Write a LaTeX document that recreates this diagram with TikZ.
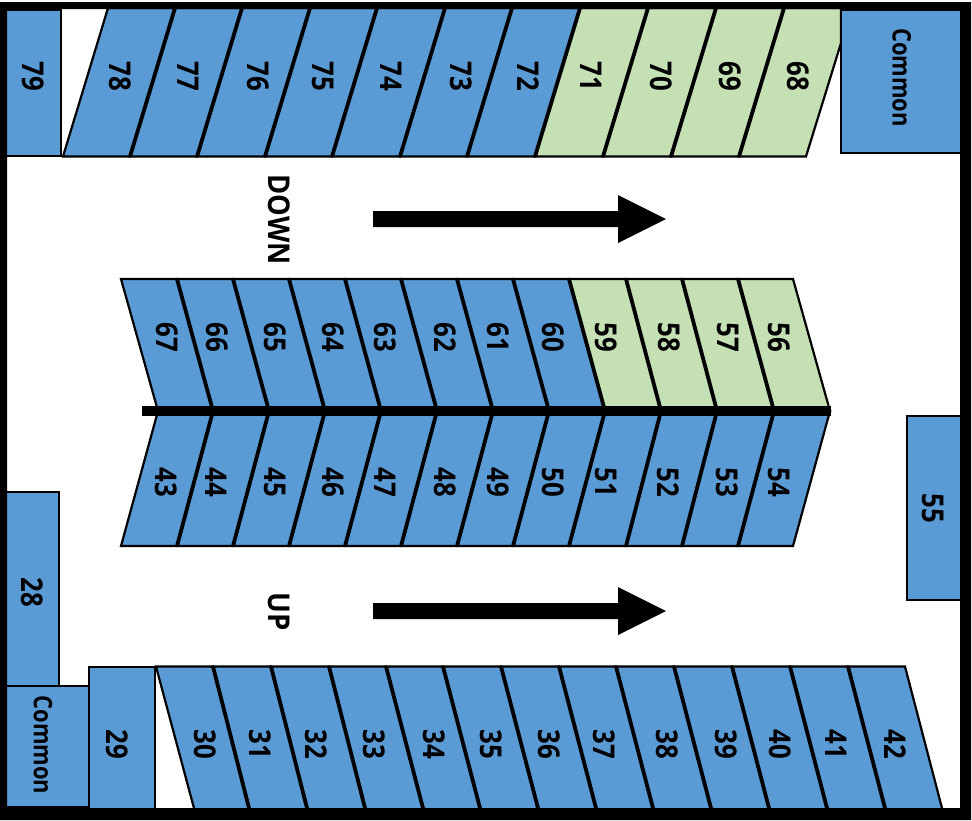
\documentclass[tikz,border=0pt]{standalone}
\usepackage{fontspec}
\setmainfont{Open Sans}
\definecolor{cblue}{HTML}{5B9BD5}
\definecolor{cgreen}{HTML}{C5E0B4}
\newcommand\squeezed[1]{\scalebox{.86}[1]{#1}}
\tikzset{
  cellblue/.style={draw=black,fill=cblue,line width=2.2pt,line join=miter},
  cellgreen/.style={draw=black,fill=cgreen,line width=2.2pt,line join=miter},
  divider/.style={draw=black,line width=3.8pt},
  boxblue/.style={draw=black,fill=cblue,line width=2pt},
  lab/.style={rotate=-90,inner sep=0pt,anchor=center,font=\bfseries\fontsize{30}{30}\selectfont,text height=20pt,text depth=0pt},
  smalllab/.style={lab,font=\bfseries\fontsize{25.5}{26}\selectfont,text height=17pt},
  widelab/.style={lab,font=\bfseries\fontsize{30}{30}\selectfont},
  arrowshape/.style={fill=black,draw=none}
}
\begin{document}
\begin{tikzpicture}[x=1pt,y=-1pt]
\useasboundingbox (0,0) rectangle (972,820);
% top row
\foreach \a/\b/\c/\d/\s in {63/108/175/130/cellblue,130/175/242/197/cellblue,197/242/310/265/cellblue,265/310/377/332/cellblue,332/377/445/400/cellblue,400/445/512/467/cellblue,467/512/580/535/cellblue,535/580/648/603/cellgreen,603/648/716/671/cellgreen,671/716/784/739/cellgreen}
  \draw[\s] (\a,156.5) -- (\b,8) -- (\c,8) -- (\d,156.5) -- cycle;
\draw[cellgreen] (739,156.5) -- (784,8) -- (841,8) -- (841,43) -- (806,156.5) -- cycle;
\foreach \a/\b in {130/175,197/242,265/310,332/377,400/445,467/512,535/580,603/648,671/716,739/784}
  \draw[divider] (\a,156.5) -- (\b,8);
% middle rows
\foreach \a/\b/\c/\d/\s in {121/158/213/177/cellblue,177/213/269/233/cellblue,233/269/325/289/cellblue,289/325/381/345/cellblue,345/381/437/401/cellblue,401/437/493/457/cellblue,457/493/549/513/cellblue,513/549/605/569/cellblue,569/605/661/626/cellgreen,626/661/717/682/cellgreen,682/717/774/738/cellgreen,738/774/830/793/cellgreen}
  \draw[\s] (\a,279) -- (\b,411) -- (\c,411) -- (\d,279) -- cycle;
\foreach \a/\b/\c/\d in {121/158/213/177,177/213/269/233,233/269/325/289,289/325/381/345,345/381/437/401,401/437/493/457,457/493/549/513,513/549/605/569,569/605/661/626,626/661/717/682,682/717/774/738,738/774/830/793}
  \draw[cellblue] (\a,546) -- (\b,411) -- (\c,411) -- (\d,546) -- cycle;
\foreach \a/\b in {177/213,233/269,289/325,345/381,401/437,457/493,513/549,569/605,626/661,682/717,738/774}{
  \draw[divider] (\a,279) -- (\b,411);
  \draw[divider] (\a,546) -- (\b,411);
}
\fill[black] (142,406) rectangle (831,416);
% bottom row
\foreach \a/\b/\c/\d in {156/195/213/250,213/250/271/308,271/308/329/366,329/366/386/424,386/424/443/481,443/481/501/539,501/539/559/597,559/597/616/654,616/654/674/712,674/712/732/770,732/770/790/828,790/828/848/886,848/886/905/943}
  \draw[cellblue] (\a,666.5) -- (\b,812) -- (\d,812) -- (\c,666.5) -- cycle;
\foreach \a/\b in {213/250,271/308,329/366,386/424,443/481,501/539,559/597,616/654,674/712,732/770,790/828,848/886}
  \draw[divider] (\a,666.5) -- (\b,812);
% boxes
\draw[boxblue] (4,10) rectangle (60.5,156);
\draw[boxblue] (841,10) rectangle (964,153);
\draw[boxblue] (906.5,416) rectangle (964,600);
\draw[boxblue] (4,491.5) rectangle (59,686);
\draw[boxblue] (4,686) rectangle (88.5,807);
\draw[boxblue] (89,666.5) rectangle (155,812);
% arrows
\fill[arrowshape] (373,211) -- (618,211) -- (618,195) -- (666,219) -- (618,243) -- (618,227) -- (373,227) -- cycle;
\fill[arrowshape] (373,603) -- (618,603) -- (618,587) -- (666,611) -- (618,635) -- (618,619) -- (373,619) -- cycle;
% frame
\fill[black,even odd rule] (0,2) rectangle (971,820) (7,9) rectangle (960,808);
% labels
\foreach \t/\x in {79/32,78/119.5,77/187,76/257,75/322,74/390,73/460,72/527,71/590,70/660,69/729,68/797}
  \node[lab] (n\t) at (\x,76) {\squeezed{\t}};
\foreach \t/\x in {67/166,66/216,65/274.5,64/332,63/384,62/444,61/497,60/552,59/605,58/668,57/727,56/778.5}
  \node[lab] (n\t) at (\x,337) {\squeezed{\t}};
\foreach \t/\x in {43/165.5,44/215.5,45/274,46/332,47/384,48/444,49/497,50/552,51/605,52/667,53/726,54/778}
  \node[lab] (n\t) at (\x,482) {\squeezed{\t}};
\foreach \t/\x in {29/116,30/204,31/259,32/315.5,33/373,34/433,35/490,36/548,37/603,38/666.5,39/725,40/779,41/835.5,42/894}
  \node[lab] (n\t) at (\x,744) {\squeezed{\t}};
\node[lab] (n55) at (932,508) {\squeezed{55}};
\node[lab] (n28) at (31,592) {\squeezed{28}};
\node[smalllab] (ctr) at (901,77.5) {\squeezed{Common}};
\node[smalllab] (cbl) at (42.5,745) {\squeezed{Common}};
\node[widelab] (down) at (278.5,219.5) {\scalebox{.91}[1]{DOWN}};
\node[widelab] (up) at (278.5,611.5) {\scalebox{.92}[1]{UP}};
\end{tikzpicture}
\end{document}
